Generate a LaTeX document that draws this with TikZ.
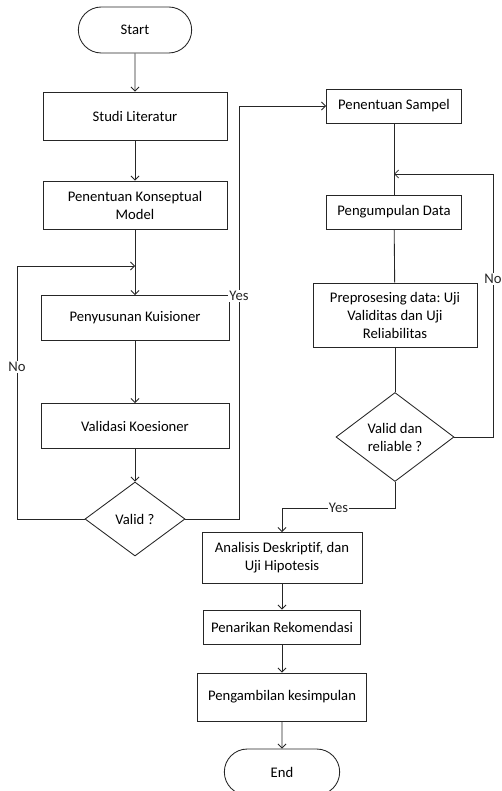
\documentclass[tikz,border=0pt]{standalone}
\usepackage{fontspec}
\setmainfont{Carlito}[Ligatures=CommonOff]
\usetikzlibrary{shapes.geometric,shapes.misc,arrows.meta}
\frenchspacing

\begin{document}
\begin{tikzpicture}[x=0.75pt,y=-0.75pt,line width=0.65pt,
  every node/.style={font=\fontsize{11}{13.5}\selectfont,draw=black!85,align=center,inner sep=1pt},
  proc/.style={rectangle},
  term/.style={rounded rectangle,minimum width=87pt,minimum height=34.5pt},
  dec/.style={diamond,shape aspect=1.3,inner sep=0pt},
  lbl/.style={draw=none,fill=white,inner sep=1pt},
  arr/.style={-{Straight Barb[length=3pt,width=6pt]}}]
\useasboundingbox (0,0) rectangle (502,791);
% left column
\node[term] (start) at (135,30) {Start};
\node[proc,minimum width=138pt,minimum height=36pt] (studi) at (135,116) {Studi Literatur};
\node[proc,minimum width=138pt,minimum height=36pt] (model) at (135,205) {Penentuan Konseptual\\Model};
\node[proc,minimum width=141pt,minimum height=33.75pt] (susun) at (135,318) {Penyusunan Kuisioner};
\node[proc,minimum width=141pt,minimum height=33.75pt] (validasi) at (135,426) {Validasi Koesioner};
\node[dec,minimum width=75pt,minimum height=55.5pt] (valid1) at (135,519) {Valid ?};
% right column
\node[proc,minimum width=101.25pt,minimum height=25.5pt] (sampel) at (394,106) {Penentuan Sampel};
\node[proc,minimum width=101.25pt,minimum height=25.5pt] (kumpul) at (394,212) {Pengumpulan Data};
\node[proc,minimum width=123pt,minimum height=48pt] (prepro) at (395,315) {Preprosesing data: Uji\\Validitas dan Uji\\Reliabilitas};
\node[dec,minimum width=88.5pt,minimum height=66.75pt] (valid2) at (395,437) {Valid dan\\reliable ?};
% bottom
\node[proc,minimum width=120pt,minimum height=38.25pt] (analisis) at (282,558) {Analisis Deskriptif, dan\\Uji Hipotesis};
\node[proc,minimum width=117.75pt,minimum height=25.5pt] (tarik) at (282,627) {Penarikan Rekomendasi};
\node[proc,minimum width=126.75pt,minimum height=36pt] (ambil) at (282,697) {Pengambilan kesimpulan};
\node[term,minimum width=88.5pt] (end) at (282,772) {End};
% corners
\coordinate (merge1) at (135,266);
\coordinate (merge2) at (394,174);
\coordinate (noL) at (17,519);
\coordinate (yesR) at (239,519);
\coordinate (noR) at (493,437);
\coordinate (yesB) at (395,508);

\foreach \a/\b in {start/studi,studi/model,model/susun,susun/validasi,validasi/valid1,analisis/tarik,tarik/ambil,ambil/end}
  \draw[arr,black!85] (\a)--(\b);
\foreach \a/\b in {sampel/kumpul,kumpul/prepro,prepro/valid2}
  \draw[black!85] (\a)--(\b);
\draw[arr,black!85] (valid1.west) -- (noL) |- (merge1) node[lbl,pos=0.3] {No};
\draw[arr,black!85] (valid1.east) -- (yesR) |- (sampel.west) node[lbl,pos=0.27] {Yes};
\draw[arr,black!85] (valid2.east) -- (noR) |- (merge2) node[lbl,pos=0.3] {No};
\draw[arr,black!85] (valid2.south) -- (yesB) -| (analisis.north) node[lbl,pos=0.25] {Yes};
\end{tikzpicture}
\end{document}
